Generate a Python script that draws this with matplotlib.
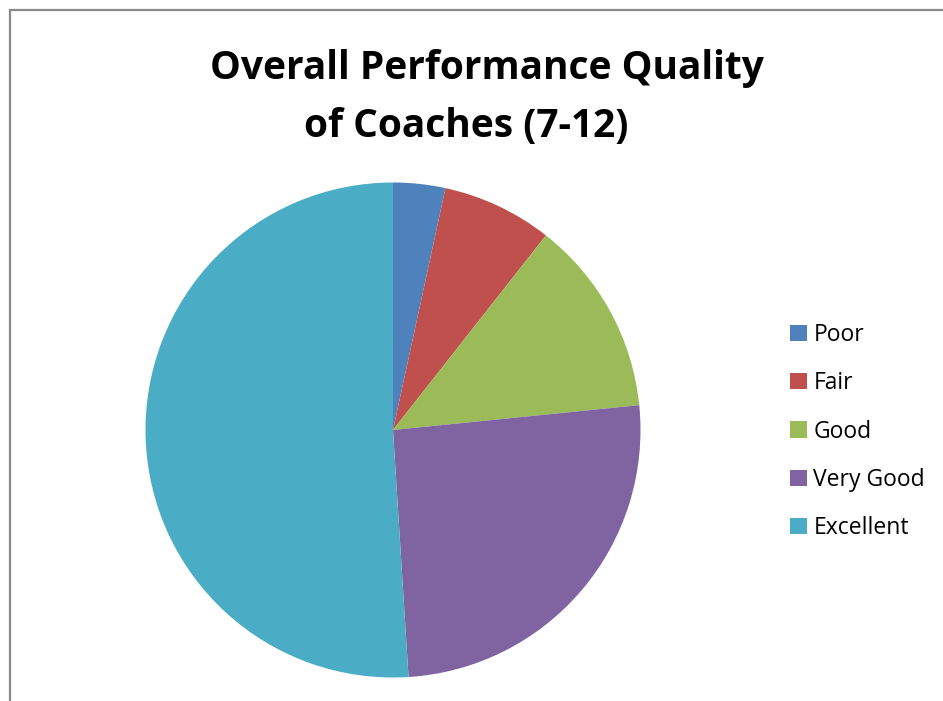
import matplotlib.pyplot as plt
from matplotlib.patches import Rectangle

# chart data (percent shares)
categories = ["Poor", "Fair", "Good", "Very Good", "Excellent"]
shares = [3.4, 7.2, 12.8, 25.6, 51.0]
colors = ["#4F81BD", "#C0504D", "#9BBB59", "#8064A2", "#4BACC6"]
title_lines = ["Overall Performance Quality", "of Coaches (7-12)"]

W, H = 943, 701
fig = plt.figure(figsize=(W / 100, H / 100), dpi=100)

# grey chart border (only the top and left edges are inside the crop)
fig.patches.append(Rectangle((9.5 / W, -0.1), 1.2, 1.1 - 10 / H,
                             transform=fig.transFigure, fill=False,
                             edgecolor="#8a8a8a", linewidth=1.6))

# title, two lines
fig.text(486.5 / W, 1 - 79 / H, title_lines[0], ha="center", va="baseline",
         fontsize=28, fontweight="bold", family="Open Sans")
fig.text(466 / W, 1 - 137 / H, title_lines[1], ha="center", va="baseline",
         fontsize=28, fontweight="bold", family="Open Sans")

# pie
cx, cy, r = 393, 430, 247.5
ax = fig.add_axes([(cx - r) / W, (H - cy - r) / H, 2 * r / W, 2 * r / H])
wedges, _ = ax.pie(shares, colors=colors, startangle=90, counterclock=False,
                   radius=1, wedgeprops={"linewidth": 0})
ax.set_xlim(-1, 1)
ax.set_ylim(-1, 1)
ax.set_aspect("equal")
ax.axis("off")

# legend
fig.legend(wedges, categories, loc="center left",
           bbox_to_anchor=(790 / W, 1 - 431.5 / H), frameon=False,
           prop={"family": "Open Sans", "size": 16.5},
           handlelength=0.72, handleheight=0.72, handletextpad=0.3,
           labelspacing=1.06, borderpad=0, borderaxespad=0)

fig.savefig("out.png", dpi=100)
